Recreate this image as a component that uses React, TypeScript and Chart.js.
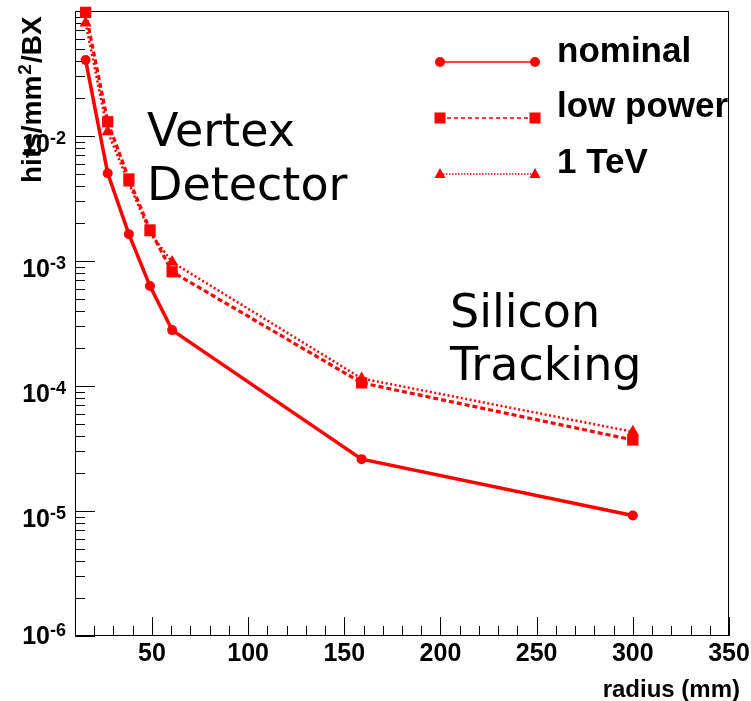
import React, { useEffect, useRef } from "react";
import { Chart, registerables } from "chart.js";

Chart.register(...registerables);

// ---- data ----
const radiusMm = [15.5, 27, 38, 49, 60.5, 159, 300];
const nominalHits = [0.0406, 0.00503, 0.00164, 0.00063, 0.00028, 0.000026, 0.0000092];
const lowPowerHits = [0.0975, 0.013, 0.00453, 0.00177, 0.00082, 0.000106, 0.000037];
const oneTeVHits = [0.08, 0.0108, 0.0042, 0.00168, 0.00098, 0.000115, 0.000043];

const seriesLabels = ["nominal", "low power", "1 TeV"];
const xMajorTicks = [50, 100, 150, 200, 250, 300, 350];
const yDecadeExponents = [-6, -5, -4, -3, -2];
const xAxisTitle = "radius (mm)";
const yAxisTitleParts = ["hits/mm", "2", "/BX"];
const regionLabels = [
  ["Vertex", "Detector"],
  ["Silicon", "Tracking"],
];

const RED = "#ff0000";
const BOLD = '"Liberation Sans", Arial, Helvetica, sans-serif';
const PLAIN = '"DejaVu Sans", Verdana, sans-serif';

function drawMarker(ctx: CanvasRenderingContext2D, style: string, x: number, y: number) {
  ctx.beginPath();
  if (style === "circle") {
    ctx.arc(x, y, 5, 0, Math.PI * 2);
  } else if (style === "rect") {
    ctx.rect(x - 5.5, y - 5.5, 11, 11);
  } else {
    ctx.moveTo(x, y - 6);
    ctx.lineTo(x + 5.5, y + 4);
    ctx.lineTo(x - 5.5, y + 4);
    ctx.closePath();
  }
  ctx.fill();
}

const rootStyle = {
  id: "rootStyle",
  beforeDraw(chart: any) {
    const ctx = chart.ctx;
    ctx.save();
    ctx.fillStyle = "#ffffff";
    ctx.fillRect(0, 0, chart.width, chart.height);
    ctx.restore();
  },
  beforeDatasetsDraw(chart: any) {
    const { ctx, chartArea: a, scales } = chart;
    const xs = scales.x;
    const ys = scales.y;
    ctx.save();
    ctx.strokeStyle = "#000000";
    ctx.lineWidth = 1;
    ctx.strokeRect(a.left + 0.5, a.top + 0.5, a.right - a.left - 1, a.bottom - a.top - 1);
    ctx.beginPath();
    for (let v = 20; v <= 350; v += 10) {
      const px = Math.round(xs.getPixelForValue(v)) + 0.5;
      const len = v % 50 === 0 ? 19 : 10;
      ctx.moveTo(px, a.bottom);
      ctx.lineTo(px, a.bottom - len);
    }
    for (let e = -6; e <= -1; e++) {
      for (let m = 1; m <= 9; m++) {
        const v = m * Math.pow(10, e);
        if (v > ys.max * 1.0001) break;
        const py = Math.round(ys.getPixelForValue(v)) + 0.5;
        const len = m === 1 ? 20 : 10;
        ctx.moveTo(a.left, py);
        ctx.lineTo(a.left + len, py);
      }
    }
    ctx.stroke();
    ctx.restore();
  },
  afterDraw(chart: any) {
    const { ctx, chartArea: a, scales } = chart;
    const xs = scales.x;
    const ys = scales.y;
    ctx.save();
    ctx.fillStyle = "#000000";

    // x tick labels
    ctx.font = `bold 25px ${BOLD}`;
    ctx.textAlign = "center";
    ctx.textBaseline = "alphabetic";
    xMajorTicks.forEach((v) => {
      ctx.fillText(String(v), xs.getPixelForValue(v), 661);
    });

    // y tick labels 10^e
    yDecadeExponents.forEach((e) => {
      const py = ys.getPixelForValue(Math.pow(10, e));
      const base = Math.min(py + 16, a.bottom + 8);
      ctx.textAlign = "right";
      ctx.font = `bold 18px ${BOLD}`;
      const sup = String(e);
      const supW = ctx.measureText(sup).width;
      ctx.fillText(sup, 66, base - 8);
      ctx.font = `bold 25px ${BOLD}`;
      ctx.fillText("10", 66 - supW, base);
    });

    // x axis title
    ctx.textAlign = "right";
    ctx.font = `bold 24px ${BOLD}`;
    ctx.fillText(xAxisTitle, 740, 697);

    // y axis title (rotated)
    ctx.save();
    ctx.translate(41, 183);
    ctx.rotate(-Math.PI / 2);
    ctx.textAlign = "left";
    ctx.font = `bold 28px ${BOLD}`;
    ctx.fillText(yAxisTitleParts[0], 0, 0);
    const w1 = ctx.measureText(yAxisTitleParts[0]).width;
    ctx.font = `bold 19px ${BOLD}`;
    ctx.fillText(yAxisTitleParts[1], w1 + 1, -10);
    const w2 = ctx.measureText(yAxisTitleParts[1]).width;
    ctx.font = `bold 28px ${BOLD}`;
    ctx.fillText(yAxisTitleParts[2], w1 + w2 + 2, 0);
    ctx.restore();

    // region annotations
    ctx.textAlign = "left";
    ctx.font = `46px ${PLAIN}`;
    ctx.fillText(regionLabels[0][0], 147, 146);
    ctx.fillText(regionLabels[0][1], 147, 200);
    ctx.fillText(regionLabels[1][0], 450, 327);
    ctx.fillText(regionLabels[1][1], 450, 380);

    // legend
    const rowY = [62, 118, 174];
    const textY = [62, 117, 173];
    chart.data.datasets.forEach((ds: any, i: number) => {
      const y = rowY[i];
      ctx.save();
      ctx.strokeStyle = RED;
      ctx.fillStyle = RED;
      ctx.lineWidth = 1.5;
      ctx.setLineDash(ds.legendDash);
      ctx.beginPath();
      ctx.moveTo(440, y);
      ctx.lineTo(535, y);
      ctx.stroke();
      ctx.setLineDash([]);
      drawMarker(ctx, ds.pointStyle, 440, y);
      drawMarker(ctx, ds.pointStyle, 535, y);
      ctx.restore();
      ctx.fillStyle = "#000000";
      ctx.textAlign = "left";
      ctx.font = `bold 35px ${BOLD}`;
      ctx.fillText(ds.label, 557, textY[i]);
    });

    ctx.restore();
  },
};

export default function App() {
  const ref = useRef<HTMLCanvasElement | null>(null);

  useEffect(() => {
    if (!ref.current) return;
    const toPts = (ys: number[]) => radiusMm.map((x, i) => ({ x, y: ys[i] }));
    const chart = new Chart(ref.current, {
      type: "line",
      data: {
        datasets: [
          {
            label: seriesLabels[0],
            data: toPts(nominalHits),
            borderColor: RED,
            backgroundColor: RED,
            borderWidth: 3.5,
            pointStyle: "circle",
            pointRadius: 5,
            pointBorderWidth: 0,
            clip: false,
            legendDash: [],
          } as any,
          {
            label: seriesLabels[1],
            data: toPts(lowPowerHits),
            borderColor: RED,
            backgroundColor: RED,
            borderWidth: 3.2,
            borderDash: [5, 3],
            pointStyle: "rect",
            pointRadius: 8,
            pointBorderWidth: 0,
            clip: false,
            legendDash: [4, 3],
          } as any,
          {
            label: seriesLabels[2],
            data: toPts(oneTeVHits),
            borderColor: RED,
            backgroundColor: RED,
            borderWidth: 2.5,
            borderDash: [2, 2.5],
            pointStyle: "triangle",
            pointRadius: 7,
            pointBorderWidth: 0,
            clip: false,
            legendDash: [1.5, 1.5],
          } as any,
        ],
      },
      options: {
        responsive: false,
        animation: false,
        events: [],
        layout: { padding: { left: 75, right: 22, top: 11, bottom: 65 } },
        scales: {
          x: { type: "linear", min: 10, max: 350, display: false },
          y: { type: "logarithmic", min: 1e-6, max: 0.1, display: false },
        },
        plugins: {
          legend: { display: false },
          tooltip: { enabled: false },
        },
      },
      plugins: [rootStyle as any],
    });
    return () => chart.destroy();
  }, []);

  return (
    <div style={{ position: "absolute", left: 0, top: 0, width: 751, height: 701, background: "#fff" }}>
      <canvas ref={ref} width={751} height={701} style={{ display: "block" }} />
    </div>
  );
}
